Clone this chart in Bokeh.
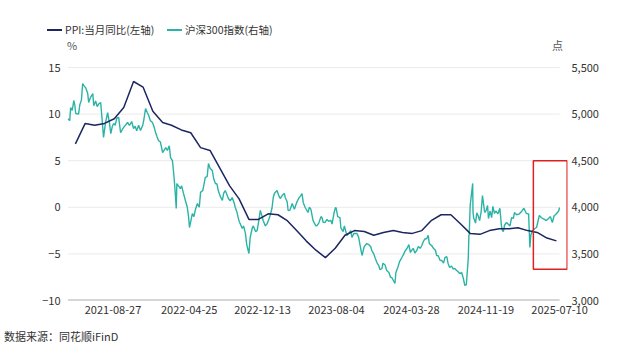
import pandas as pd
from bokeh.plotting import figure
from bokeh.layouts import column
from bokeh.models import (Range1d, LinearAxis, FixedTicker, NumeralTickFormatter,
                          DatetimeTickFormatter, BoxAnnotation, Div)
from bokeh.embed import file_html
from bokeh.resources import INLINE

# ---------------- data ----------------
ppi_dates = ["2021-04-30", "2021-05-31", "2021-06-30", "2021-07-31", "2021-08-31", "2021-09-30",
             "2021-10-31", "2021-11-30", "2021-12-31", "2022-01-31", "2022-02-28", "2022-03-31",
             "2022-04-30", "2022-05-31", "2022-06-30", "2022-07-31", "2022-08-31", "2022-09-30",
             "2022-10-31", "2022-11-30", "2022-12-31", "2023-01-31", "2023-02-28", "2023-03-31",
             "2023-04-30", "2023-05-31", "2023-06-30", "2023-07-31", "2023-08-31", "2023-09-30",
             "2023-10-31", "2023-11-30", "2023-12-31", "2024-01-31", "2024-02-29", "2024-03-31",
             "2024-04-30", "2024-05-31", "2024-06-30", "2024-07-31", "2024-08-31", "2024-09-30",
             "2024-10-31", "2024-11-30", "2024-12-31", "2025-01-31", "2025-02-28", "2025-03-31",
             "2025-04-30", "2025-05-31", "2025-06-30"]
ppi_values = [6.8, 9.0, 8.8, 9.0, 9.5, 10.7, 13.5, 12.9, 10.3, 9.1, 8.8, 8.3,
              8.0, 6.4, 6.1, 4.2, 2.3, 0.9, -1.3, -1.3, -0.7, -0.8, -1.4, -2.5,
              -3.6, -4.6, -5.4, -4.4, -3.0, -2.5, -2.6, -3.0, -2.7, -2.5, -2.7, -2.8,
              -2.5, -1.4, -0.8, -0.8, -1.8, -2.8, -2.9, -2.5, -2.3, -2.3, -2.2, -2.5,
              -2.7, -3.3, -3.6]

hs_dates = [
    "2021-04-06", "2021-04-12", "2021-04-15", "2021-04-20", "2021-04-25", "2021-04-28", "2021-05-01",
    "2021-05-10", "2021-05-14", "2021-05-19", "2021-05-23", "2021-05-28", "2021-06-02", "2021-06-08",
    "2021-06-11", "2021-06-17", "2021-06-24", "2021-06-27", "2021-07-03", "2021-07-08", "2021-07-13",
    "2021-07-19", "2021-07-23", "2021-07-28", "2021-08-03", "2021-08-10", "2021-08-16", "2021-08-20",
    "2021-08-25", "2021-08-29", "2021-09-03", "2021-09-08", "2021-09-14", "2021-09-20", "2021-09-28",
    "2021-10-12", "2021-10-18", "2021-10-25", "2021-10-31", "2021-11-05", "2021-11-10", "2021-11-16",
    "2021-11-22", "2021-11-29", "2021-12-03", "2021-12-08", "2021-12-13", "2021-12-18", "2021-12-23",
    "2021-12-30", "2022-01-05", "2022-01-09", "2022-01-13", "2022-01-18", "2022-01-24", "2022-01-31",
    "2022-02-10", "2022-02-15", "2022-02-21", "2022-02-25", "2022-03-03", "2022-03-06", "2022-03-09",
    "2022-03-13", "2022-03-15", "2022-03-17", "2022-03-22", "2022-03-28", "2022-04-01", "2022-04-07",
    "2022-04-13", "2022-04-19", "2022-04-23", "2022-04-26", "2022-05-05", "2022-05-10", "2022-05-15",
    "2022-05-21", "2022-05-27", "2022-05-31", "2022-06-07", "2022-06-15", "2022-06-21", "2022-06-25",
    "2022-06-30", "2022-07-07", "2022-07-12", "2022-07-17", "2022-07-22", "2022-07-26", "2022-08-01",
    "2022-08-08", "2022-08-12", "2022-08-17", "2022-08-22", "2022-08-27", "2022-09-02", "2022-09-08",
    "2022-09-14", "2022-09-18", "2022-09-23", "2022-09-27", "2022-09-30", "2022-10-10", "2022-10-14",
    "2022-10-20", "2022-10-24", "2022-10-31", "2022-11-04", "2022-11-11", "2022-11-14", "2022-11-21",
    "2022-11-26", "2022-12-02", "2022-12-06", "2022-12-12", "2022-12-15", "2022-12-22", "2022-12-28",
    "2023-01-03", "2023-01-06", "2023-01-12", "2023-01-16", "2023-01-20", "2023-01-28", "2023-02-03",
    "2023-02-07", "2023-02-14", "2023-02-20", "2023-02-23", "2023-03-01", "2023-03-04", "2023-03-10",
    "2023-03-17", "2023-03-24", "2023-03-31", "2023-04-07", "2023-04-12", "2023-04-17", "2023-04-21",
    "2023-04-27", "2023-05-06", "2023-05-10", "2023-05-15", "2023-05-22", "2023-05-26", "2023-05-31",
    "2023-06-04", "2023-06-09", "2023-06-16", "2023-06-19", "2023-06-23", "2023-06-29", "2023-07-05",
    "2023-07-10", "2023-07-17", "2023-07-21", "2023-07-28", "2023-08-01", "2023-08-03", "2023-08-08",
    "2023-08-15", "2023-08-18", "2023-08-25", "2023-08-29", "2023-09-06", "2023-09-12", "2023-09-18",
    "2023-09-22", "2023-09-28", "2023-10-08", "2023-10-13", "2023-10-20", "2023-10-24", "2023-10-31",
    "2023-11-08", "2023-11-14", "2023-11-20", "2023-11-24", "2023-11-30", "2023-12-05", "2023-12-10",
    "2023-12-15", "2023-12-20", "2023-12-26", "2023-12-29", "2024-01-05", "2024-01-10", "2024-01-17",
    "2024-01-22", "2024-01-26", "2024-01-31", "2024-02-05", "2024-02-08", "2024-02-14", "2024-02-20",
    "2024-02-27", "2024-03-04", "2024-03-08", "2024-03-14", "2024-03-20", "2024-03-25", "2024-03-29",
    "2024-04-03", "2024-04-08", "2024-04-14", "2024-04-19", "2024-04-25", "2024-04-30", "2024-05-06",
    "2024-05-10", "2024-05-16", "2024-05-20", "2024-05-24", "2024-05-31", "2024-06-06", "2024-06-12",
    "2024-06-16", "2024-06-21", "2024-06-27", "2024-07-02", "2024-07-08", "2024-07-12", "2024-07-18",
    "2024-07-22", "2024-07-27", "2024-08-02", "2024-08-07", "2024-08-12", "2024-08-16", "2024-08-22",
    "2024-08-28", "2024-09-03", "2024-09-09", "2024-09-13", "2024-09-18", "2024-09-24", "2024-09-26",
    "2024-09-27", "2024-09-30", "2024-10-08", "2024-10-09", "2024-10-11", "2024-10-15", "2024-10-17",
    "2024-10-21", "2024-10-25", "2024-10-30", "2024-11-04", "2024-11-08", "2024-11-12", "2024-11-15",
    "2024-11-20", "2024-11-24", "2024-11-27", "2024-12-02", "2024-12-07", "2024-12-11", "2024-12-16",
    "2024-12-20", "2024-12-27", "2025-01-02", "2025-01-07", "2025-01-10", "2025-01-13", "2025-01-17",
    "2025-01-23", "2025-02-03", "2025-02-08", "2025-02-14", "2025-02-17", "2025-02-24", "2025-03-05",
    "2025-03-10", "2025-03-14", "2025-03-19", "2025-03-27", "2025-04-03", "2025-04-07", "2025-04-10",
    "2025-04-15", "2025-04-22", "2025-04-28", "2025-05-07", "2025-05-13", "2025-05-17", "2025-05-23",
    "2025-05-29", "2025-06-05", "2025-06-11", "2025-06-17", "2025-06-23", "2025-06-27", "2025-07-03",
    "2025-07-07", "2025-07-10"]
hs_values = [
    4950, 4930, 5070, 5040, 5146, 5100, 5006,
    5000, 5100, 5150, 5328, 5300, 5280, 5220,
    5124, 5180, 5220, 5090, 5140, 5080, 5110,
    5124, 4963, 4750, 4900, 5017, 4900, 4790,
    4870, 4900, 4880, 4960, 4963, 4800, 4850,
    4910, 4880, 4920, 4845, 4870, 4820, 4880,
    4824, 4880, 4950, 5060, 5020, 4985, 4930,
    4910, 4850, 4800, 4760, 4717, 4700, 4588,
    4640, 4610, 4660, 4534, 4500, 4400, 4288,
    4100, 3987, 4255, 4230, 4200, 4230, 4150,
    4073, 4000, 3900, 3783, 3933, 3900, 3980,
    4040, 4000, 4160, 4180, 4320, 4330, 4470,
    4420, 4395, 4300, 4255, 4250, 4180, 4120,
    4073, 4150, 4180, 4140, 4094, 4070, 4105,
    4050, 3998, 3950, 3890, 3850, 3772, 3800,
    3720, 3600, 3504, 3676, 3783, 3800, 3740,
    3750, 3870, 3966, 3900, 3858, 3800, 3826,
    3880, 3912, 3990, 4105, 4150, 4180, 4120,
    4094, 4130, 4150, 4105, 4060, 3966, 3970,
    4040, 3980, 4050, 4100, 4120, 4148, 4050,
    3998, 3944, 4000, 3980, 3858, 3830, 3800,
    3805, 3830, 3900, 3890, 3840, 3837, 3870,
    3850, 3860, 3820, 3950, 3998, 3990, 3900,
    3890, 3780, 3740, 3800, 3697, 3720, 3750,
    3676, 3720, 3719, 3680, 3550, 3483, 3580,
    3611, 3600, 3580, 3536, 3500, 3450, 3407,
    3380, 3330, 3343, 3400, 3380, 3322, 3300,
    3250, 3247, 3215, 3182, 3300, 3354, 3420,
    3461, 3500, 3530, 3558, 3600, 3515, 3537,
    3560, 3510, 3536, 3580, 3560, 3590, 3640,
    3660, 3665, 3700, 3610, 3590, 3560, 3540,
    3483, 3480, 3430, 3429, 3400, 3460, 3470,
    3400, 3354, 3370, 3340, 3343, 3330, 3310,
    3290, 3300, 3230, 3161, 3171, 3450, 3700,
    3703, 4017, 4256, 3956, 3887, 3850, 3830,
    3940, 3912, 3858, 3960, 4127, 4020, 3944,
    3970, 4019, 3880, 3960, 3890, 4010, 3933,
    3960, 3930, 3990, 3800, 3750, 3740, 3810,
    3837, 3800, 3890, 3880, 3944, 3920, 3930,
    3950, 3966, 3990, 3933, 3930, 3568, 3700,
    3750, 3770, 3783, 3912, 3890, 3880, 3870,
    3858, 3880, 3900, 3837, 3912, 3920, 3944,
    3960, 3998]

series_names = ["PPI:当月同比(左轴)", "沪深300指数(右轴)"]
left_unit, right_unit = "%", "点"
source_note = "数据来源：同花顺iFinD"

left_ticks = [-10, -5, 0, 5, 10, 15]
right_ticks = [3000, 3500, 4000, 4500, 5000, 5500]
date_ticks = ["2021-08-27", "2022-04-25", "2022-12-13", "2023-08-04",
              "2024-03-28", "2024-11-19", "2025-07-10"]

# highlighted window (red frame)
box_start, box_end = "2025-04-18", "2025-08-03"
box_low, box_high = 3335, 4500

# ---------------- layout constants (pixels) ----------------
W, H = 640, 349
HEAD_H, FOOT_H = 52, 24
AXIS_TOP_PX, AXIS_BOTTOM_PX = 67, 300
FRAME_LEFT, FRAME_RIGHT = 67, 567
MAIN_H = H - HEAD_H - FOOT_H
extra = (AXIS_TOP_PX - HEAD_H) / (AXIS_BOTTOM_PX - AXIS_TOP_PX)
left_top = left_ticks[-1] + extra * (left_ticks[-1] - left_ticks[0])
right_top = right_ticks[-1] + extra * (right_ticks[-1] - right_ticks[0])

FONT = "Noto Sans CJK SC"
TXT = "#333333"
PPI_COLOR = "#1c2660"
HS_COLOR = "#2bb3a6"

ppi_x = pd.to_datetime(ppi_dates)
hs_x = pd.to_datetime(hs_dates)
x0 = pd.Timestamp("2021-04-05")
x1 = pd.Timestamp("2025-08-04")

# ---------------- main chart ----------------
p = figure(width=W, height=MAIN_H, output_backend="svg", toolbar_location=None,
           x_axis_type="datetime", x_range=Range1d(x0, x1),
           y_range=Range1d(left_ticks[0], left_top),
           min_border_left=FRAME_LEFT, min_border_right=W - FRAME_RIGHT,
           min_border_top=0, min_border_bottom=HEAD_H + MAIN_H - AXIS_BOTTOM_PX)
p.extra_y_ranges = {"hs": Range1d(right_ticks[0], right_top)}
p.outline_line_color = None
p.xgrid.visible = False
p.ygrid.visible = False

grid_y = left_ticks[1:]
p.segment(x0=[hs_x[0]] * len(grid_y), x1=[hs_x[-1]] * len(grid_y), y0=grid_y, y1=grid_y,
          line_color="#ebebeb", line_width=1)
p.segment(x0=[hs_x[0]], x1=[hs_x[-1]], y0=[left_ticks[0]], y1=[left_ticks[0]],
          line_color="#a9adb6", line_width=2)

p.line(hs_x, hs_values, y_range_name="hs", line_color=HS_COLOR, line_width=1.4)
p.line(ppi_x, ppi_values, line_color=PPI_COLOR, line_width=1.5)

p.add_layout(BoxAnnotation(left=pd.Timestamp(box_start), right=pd.Timestamp(box_end),
                           bottom=box_low, top=box_high, y_range_name="hs",
                           fill_alpha=0, line_color="#e02020", line_alpha=1, line_width=1.5))

def style_axis(ax):
    ax.axis_line_color = None
    ax.major_tick_line_color = None
    ax.minor_tick_line_color = None
    ax.major_tick_out = 0
    ax.major_tick_in = 0
    ax.minor_tick_out = 0
    ax.major_label_text_font = FONT
    ax.major_label_text_font_size = "11px"
    ax.major_label_text_color = TXT

p.yaxis.ticker = FixedTicker(ticks=left_ticks)
style_axis(p.yaxis[0])
p.yaxis.major_label_standoff = 7

ra = LinearAxis(y_range_name="hs", ticker=FixedTicker(ticks=right_ticks),
                formatter=NumeralTickFormatter(format="0,0"))
style_axis(ra)
ra.major_label_standoff = 4
p.add_layout(ra, "right")

tick_ms = [pd.Timestamp(d).value // 10**6 for d in date_ticks]
p.xaxis.ticker = FixedTicker(ticks=tick_ms)
fmt = "%Y-%m-%d"
p.xaxis.formatter = DatetimeTickFormatter(days=fmt, months=fmt, years=fmt, hours=fmt,
                                          strip_leading_zeros=False)
style_axis(p.xaxis[0])
p.xaxis.major_label_standoff = 5

# ---------------- header: legend and unit labels (HTML) ----------------
def span(text, left, top, size, color=TXT):
    return (f'<span style="position:absolute;left:{left}px;top:{top}px;white-space:nowrap;'
            f'font-size:{size}px;line-height:14px;color:{color};">{text}</span>')

def swatch(left, top, color):
    return (f'<span style="position:absolute;left:{left}px;top:{top}px;width:15px;height:0;'
            f'border-top:2px solid {color};"></span>')

head_html = (f'<div style="position:relative;width:{W}px;height:{HEAD_H}px;'
             f'font-family:\'{FONT}\';">'
             + swatch(47, 29, PPI_COLOR) + span(series_names[0], 65, 23, 10.5)
             + swatch(167, 29, HS_COLOR) + span(series_names[1], 185, 23, 10.5)
             + span(left_unit, FRAME_LEFT, 38, 11, "#555555")
             + span(right_unit, FRAME_RIGHT - 15, 38, 11, "#555555")
             + '</div>')
head = Div(text=head_html, width=W, height=HEAD_H, margin=0)

foot_html = (f'<div style="position:relative;width:{W}px;height:{FOOT_H}px;'
             f'font-family:\'{FONT}\';">' + span(source_note, 4, 4, 11) + '</div>')
foot = Div(text=foot_html, width=W, height=FOOT_H, margin=0)

layout = column(head, p, foot, spacing=0)
open("out.html", "w").write(file_html(layout, INLINE))
